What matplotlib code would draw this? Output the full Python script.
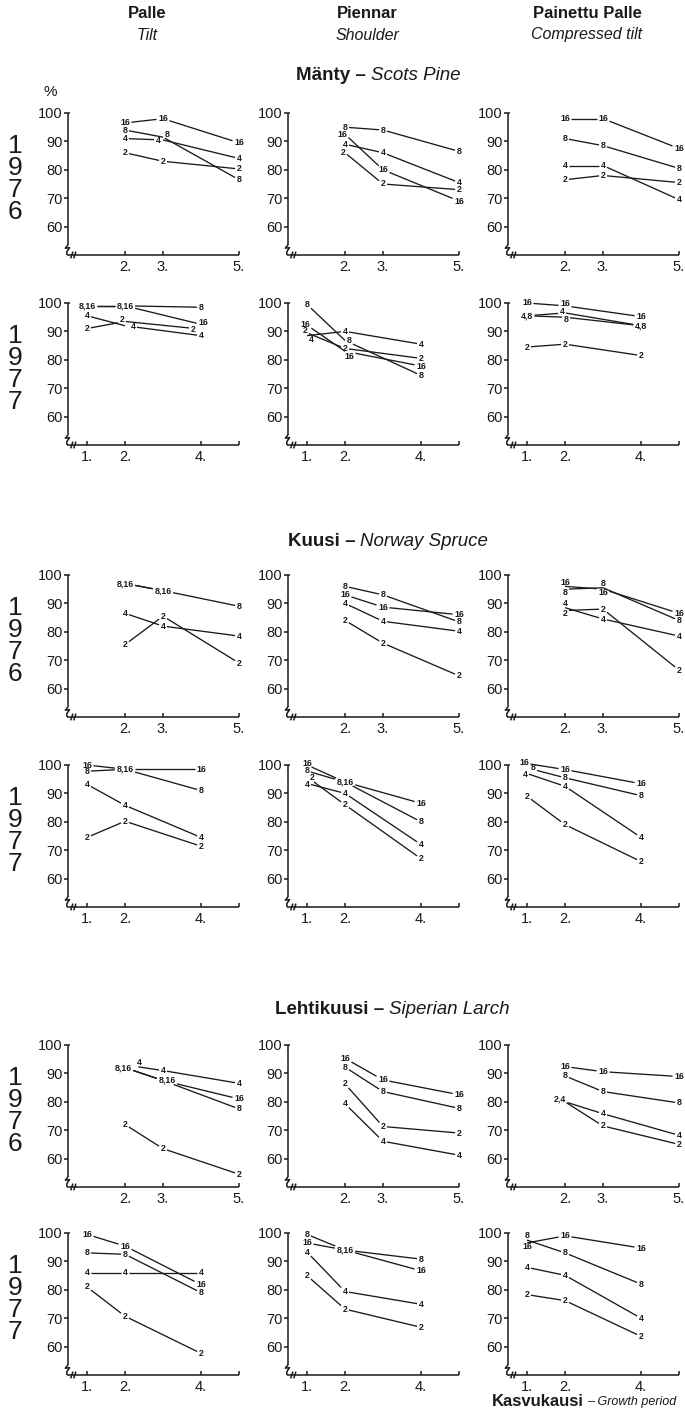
import numpy as np
import matplotlib.pyplot as plt

plt.rcParams["font.family"] = ["Liberation Sans", "DejaVu Sans"]

SERIES = ["2", "4", "8", "16"]
X_1976 = [2, 3, 5]
X_1977 = [1, 2, 4]
TICKS_1976 = [2, 3, 5]
TICKS_1977 = [1, 2, 4, 5]
TICKLABELS_1976 = ["2.", "3.", "5."]
TICKLABELS_1977 = ["1.", "2.", "4.", ""]
YTICKS = [60, 70, 80, 90, 100]

METHODS = [("Palle", "Tilt"), ("Piennar", "Shoulder"),
           ("Painettu Palle", "Compressed tilt")]
SPECIES = [("Mänty", "Scots Pine"), ("Kuusi", "Norway Spruce"),
           ("Lehtikuusi", "Siperian Larch")]
YEARS = ["1976", "1977"]

# eloonjääneet %, rivit järjestyksessä 2, 4, 8, 16
pine76_tilt = [[86, 83, 80.3], [91, 90.5, 84], [94, 91.5, 76.5], [96.5, 98, 89.5]]
pine76_shoulder = [[86, 75, 73], [89, 86, 75.5], [95, 94, 86.5], [92.5, 80, 69]]
pine76_compressed = [[76.5, 78, 75.5], [81.5, 81.5, 69.5], [91, 88.5, 80.5], [98, 98, 87.5]]

pine77_tilt = [[91, 93.5, 90.8], [95.5, 92, 88.5], [99, 99, 98.5], [99, 99, 92.5]]
pine77_shoulder = [[89.5, 84, 80.5], [88.5, 90, 85.5], [99.5, 86.8, 74.5], [92.2, 83, 77.8]]
pine77_compressed = [[84.5, 85.5, 81.5], [95.5, 96.5, 92], [95.5, 95, 92], [100, 99, 95.2]]

spruce76_tilt = [[75.5, 85.5, 69], [86.5, 82, 78.5], [97, 94.5, 89], [97, 94.5, None]]
spruce76_shoulder = [[84, 76, 64.5], [90, 83.7, 80.2], [96, 93, 83.5], [93, 88.7, 86]]
spruce76_compressed = [[87.5, 88, 66.5], [88.5, 84.5, 78.5], [95, 95.5, 84], [96, 95, 86.5]]

spruce77_tilt = [[74.5, 80.2, 71.4], [93.2, 85.8, 74.5], [97.8, 98.5, 91], [100, 98.5, 98.5]]
spruce77_shoulder = [[95.8, 86, 67], [93.5, 90, 72], [97.9, 94, 80], [100, 94, 86.5]]
spruce77_compressed = [[89, 79, 66], [97, 92.5, 74.5], [99, 95.5, 89.2], [100.5, 98.4, 93.4]]

larch76_tilt = [[72, 63.5, 54.5], [93, 91, 86.5], [92, 87.5, 77.5], [92, 87.5, 81]]
larch76_shoulder = [[86.3, 71.3, 69], [79.3, 66.1, 61.2], [92.2, 83.6, 77.7], [95.3, 87.7, 82.5]]
larch76_compressed = [[80, 71.5, 65], [80, 75.8, 68.2], [89.1, 83.6, 79.6], [92.4, 90.6, 88.9]]

larch77_tilt = [[81, 70.7, 57.6], [86, 86, 86], [93, 92.5, 79], [99.5, 95.4, 81.8]]
larch77_shoulder = [[85, 73.2, 66.8], [93.3, 79.4, 74.9], [99.5, 94, 90.8], [96.5, 94, 86.7]]
larch77_compressed = [[78.3, 76.2, 63.6], [87.9, 85.1, 70], [97.5, 93, 82], [96.5, 99, 94.7]]

PANELS = [
    [pine76_tilt, pine76_shoulder, pine76_compressed],
    [pine77_tilt, pine77_shoulder, pine77_compressed],
    [spruce76_tilt, spruce76_shoulder, spruce76_compressed],
    [spruce77_tilt, spruce77_shoulder, spruce77_compressed],
    [larch76_tilt, larch76_shoulder, larch76_compressed],
    [larch77_tilt, larch77_shoulder, larch77_compressed],
]

# numeroiden siirrot (rivi, sarake, teksti, piste) -> pikseleinä
NUDGES = {
    (0, 0, "4", 1): (-5, -1), (0, 0, "8", 1): (4, 3),
    (0, 1, "16", 0): (-3, 0), (0, 1, "2", 0): (-2, 0),
    (1, 0, "4", 1): (8, -1), (1, 0, "2", 1): (-3, 2),
    (1, 0, "2", 2): (-8, 0), (1, 0, "16", 2): (2, 2),
    (1, 1, "2", 0): (-2, 2), (1, 1, "4", 0): (4, -4), (1, 1, "16", 0): (-2, 1),
    (1, 1, "8", 1): (4, 0), (1, 1, "16", 1): (4, -5),
    (1, 2, "16", 1): (0, 2), (1, 2, "8", 1): (1, -2), (1, 2, "4", 1): (-3, 1),
    (2, 2, "16", 0): (0, 4), (2, 2, "8", 0): (0, -3),
    (2, 2, "8", 1): (0, 4), (2, 2, "16", 1): (0, -3),
    (2, 2, "4", 0): (0, 4), (2, 2, "2", 0): (0, -3),
    (3, 1, "16", 0): (0, 2), (3, 1, "2", 0): (5, -1), (3, 1, "4", 0): (0, -1),
    (3, 2, "16", 0): (-3, 1), (3, 2, "8", 0): (6, 0), (3, 2, "4", 0): (-2, -1),
    (4, 0, "4", 0): (14, 2), (4, 0, "8,16", 0): (-2, 0), (4, 0, "8,16", 1): (4, 0),
    (4, 2, "2,4", 0): (-5, 3),
    (5, 2, "8", 0): (0, 5), (5, 2, "16", 0): (0, -4),
}

W, H = 685, 1414
COL_LEFT = [68, 288, 508]
ROW_TOP = [113, 303, 575, 765, 1045, 1233]
AX_W, AX_H = 171, 142
SECTION_Y = [76, 541, 1010]
SECTION_X = [378, 388, 392]
LINE = "#1a1a1a"


def frame(ax, year):
    for side in ["top", "right", "left", "bottom"]:
        ax.spines[side].set_visible(False)
    ax.set_xlim(0.5, 5.0)
    ax.set_ylim(50, 100)
    kw = dict(color=LINE, lw=1.1, clip_on=False, solid_capstyle="butt")
    # pystyakseli katkolla
    ax.plot([0.5, 0.5], [100, 53.6], **kw)
    ax.plot([0.5, 0.43, 0.54, 0.47, 0.47], [53.6, 52.4, 52.6, 51.2, 50], **kw)
    ax.plot([0.5, 0.56], [100, 100], **kw)
    # vaaka-akseli ja kaksi vinoviivaa
    ax.plot([0.47, 5.0], [50, 50], **kw)
    for x0 in [0.6, 0.68]:
        ax.plot([x0 - 0.03, x0 + 0.03], [48.8, 51.2], **kw)
    ticks = TICKS_1976 if year == "1976" else TICKS_1977
    labels = TICKLABELS_1976 if year == "1976" else TICKLABELS_1977
    ax.set_xticks(ticks)
    ax.set_xticklabels(labels)
    ax.set_yticks(YTICKS)
    ax.set_yticklabels([str(v) for v in YTICKS])
    ax.tick_params(axis="x", direction="in", length=3, width=1.1, color=LINE,
                   labelsize=10.5, pad=3.5, labelcolor=LINE)
    ax.tick_params(axis="y", direction="out", length=3, width=1.1, color=LINE,
                   labelsize=10.5, pad=1, labelcolor=LINE)
    ax.patch.set_alpha(0)


def exit_dist(p, u, box):
    # kuinka pitkälle säde p + t*u kulkee ennen kuin se poistuu laatikosta
    tmin, tmax = -np.inf, np.inf
    for k in range(2):
        lo, hi = box[k], box[k + 2]
        if abs(u[k]) < 1e-9:
            if p[k] < lo or p[k] > hi:
                return 0.0
            continue
        t1, t2 = (lo - p[k]) / u[k], (hi - p[k]) / u[k]
        tmin, tmax = max(tmin, min(t1, t2)), min(tmax, max(t1, t2))
    if tmax >= max(tmin, 0):
        return tmax
    return 0.0


def draw_panel(ax, r, c, data, year, renderer):
    xs = X_1976 if year == "1976" else X_1977
    vals = np.array(data, dtype=float)
    boxes = {}
    for i, x in enumerate(xs):
        done = set()
        for s in range(len(SERIES)):
            if s in done or np.isnan(vals[s, i]):
                continue
            same = [k for k in range(len(SERIES))
                    if not np.isnan(vals[k, i]) and abs(vals[k, i] - vals[s, i]) < 0.05]
            done.update(same)
            text = ",".join(SERIES[k] for k in same)
            dx, dy = NUDGES.get((r, c, text, i), (0, 0))
            ann = ax.annotate(text, (x, vals[s, i]), xytext=(dx, dy),
                              textcoords="offset pixels", ha="center", va="center",
                              fontsize=6.4, fontweight="bold", color=LINE,
                              family=["Liberation Sans Narrow", "Liberation Sans"],
                              zorder=4, annotation_clip=False)
            bb = ann.get_window_extent(renderer)
            box = (bb.x0 - 1.5, bb.y0 + 0.5, bb.x1 + 1.5, bb.y1 - 0.5)
            for k in same:
                boxes[(k, i)] = box
    # viivat katkaistaan numeroiden kohdalta
    to_disp = ax.transData
    to_data = ax.transData.inverted()
    for s in range(len(SERIES)):
        for i in range(len(xs) - 1):
            if np.isnan(vals[s, i]) or np.isnan(vals[s, i + 1]):
                continue
            p0 = to_disp.transform((xs[i], vals[s, i]))
            p1 = to_disp.transform((xs[i + 1], vals[s, i + 1]))
            seg = p1 - p0
            length = np.hypot(*seg)
            u = seg / length
            t0 = exit_dist(p0, u, boxes[(s, i)])
            t1 = exit_dist(p1, -u, boxes[(s, i + 1)])
            if t0 + t1 >= length - 2:
                continue
            a = to_data.transform(p0 + u * t0)
            b = to_data.transform(p1 - u * t1)
            ax.plot([a[0], b[0]], [a[1], b[1]], color=LINE, lw=0.95,
                    zorder=2, clip_on=False, solid_capstyle="butt")


fig = plt.figure(figsize=(W / 100, H / 100), dpi=100)
renderer = fig.canvas.get_renderer()

for r in range(6):
    year = YEARS[r % 2]
    for c in range(3):
        top = ROW_TOP[r]
        ax = fig.add_axes([COL_LEFT[c] / W, 1 - (top + AX_H) / H, AX_W / W, AX_H / H])
        frame(ax, year)
        draw_panel(ax, r, c, PANELS[r][c], year, renderer)
    # vuosi pystysuoraan
    fig.text(15 / W, 1 - (ROW_TOP[r] + 66) / H, "\n".join(year), ha="center",
             va="center", fontsize=19, linespacing=0.9, color=LINE)

for c, (fi, en) in enumerate(METHODS):
    xc = (COL_LEFT[c] + 79) / W
    fig.text(xc, 1 - 14 / H, fi, ha="center", va="center", fontsize=12,
             fontweight="bold", color=LINE)
    fig.text(xc, 1 - 35 / H, en, ha="center", va="center", fontsize=11.5,
             style="italic", color=LINE)


def two_part(xc, y, bold, italic, size_b, size_i, gap):
    # lihavoitu ja kursivoitu osa rinnakkain, keskitettynä kohtaan xc
    tb = fig.text(0, y, bold, ha="left", va="center", fontsize=size_b,
                  fontweight="bold", color=LINE)
    ti = fig.text(0, y, italic, ha="left", va="center", fontsize=size_i,
                  style="italic", color=LINE)
    wb = tb.get_window_extent(renderer).width
    wi = ti.get_window_extent(renderer).width
    x0 = xc - (wb + gap + wi) / 2
    tb.set_x(x0 / W)
    ti.set_x((x0 + wb + gap) / W)


for k, (fi, en) in enumerate(SPECIES):
    two_part(SECTION_X[k], 1 - SECTION_Y[k] / H, fi + " \u2013", en, 13.5, 13.5, 5)

fig.text(50 / W, 1 - 92 / H, "%", ha="center", va="center", fontsize=11, color=LINE)

two_part(584, 1 - 1402 / H, "Kasvukausi", "\u2013 Growth period", 12, 9, 3)

fig.savefig("out.png", dpi=100)
